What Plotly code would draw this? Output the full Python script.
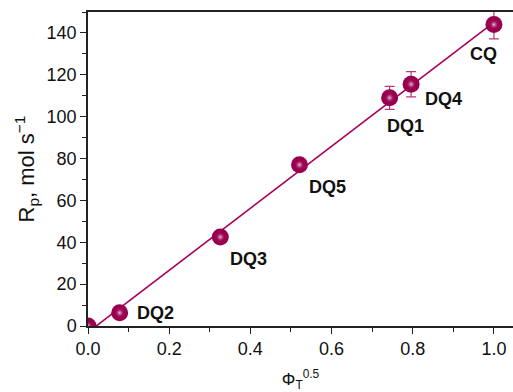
import plotly.graph_objects as go

names = ["", "DQ2", "DQ3", "DQ5", "DQ1", "DQ4", "CQ"]
phi = [0.0, 0.078, 0.326, 0.521, 0.743, 0.796, 1.0]
rp = [0.0, 6.3, 42.5, 77.0, 109.0, 115.5, 144.0]
err = [0.0, 0.0, 0.0, 1.8, 5.5, 6.0, 6.8]

fit_x = [0.0, 1.0]
fit_y = [-3.0, 145.0]

label_dx = [0, 0.088, 0.07, 0.07, 0.04, 0.08, -0.025]
label_dy = [0, 0.0, -10.5, -10.5, -13.4, -7.0, -14.3]

col = "#98004F"

fig = go.Figure()
fig.add_trace(go.Scatter(x=fit_x, y=fit_y, mode="lines",
                         line=dict(color="#A8005C", width=1.6),
                         hoverinfo="skip", showlegend=False))
fig.add_trace(go.Scatter(
    x=phi, y=rp, mode="markers",
    marker=dict(size=17, color=col, line=dict(width=0)),
    error_y=dict(type="data", array=err, visible=True, color="#B83A78",
                 thickness=1.2, width=5),
    cliponaxis=True, showlegend=False))
fig.add_trace(go.Scatter(
    x=phi, y=rp, mode="markers",
    marker=dict(size=10, color="rgba(152,0,79,0)",
                gradient=dict(type="radial", color="rgba(255,235,245,0.85)"),
                line=dict(width=0)),
    hoverinfo="skip", cliponaxis=True, showlegend=False))

for n, x, y, dx, dy in zip(names, phi, rp, label_dx, label_dy):
    if n:
        fig.add_annotation(x=x + dx, y=y + dy, text="<b>" + n + "</b>",
                           showarrow=False,
                           font=dict(family="Liberation Sans, Arial", size=18,
                                     color="#111111"),
                           xanchor="center", yanchor="middle")

fig.update_layout(
    width=513, height=392,
    margin=dict(l=88, r=0, t=12, b=66),
    plot_bgcolor="white", paper_bgcolor="white",
    font=dict(family="Liberation Sans, Arial", size=18, color="#111111"),
)
fig.update_xaxes(range=[0, 1.047], tickvals=[0, 0.2, 0.4, 0.6, 0.8, 1.0],
                 ticktext=["0.0", "0.2", "0.4", "0.6", "0.8", "1.0"],
                 ticks="outside", ticklen=6, tickwidth=1.2, tickcolor="#222",
                 minor=dict(dtick=0.1, tick0=0, ticks="outside", ticklen=4,
                            tickcolor="#222", tickwidth=1.2),
                 showline=True, linecolor="#222", linewidth=1.5, mirror=True,
                 showgrid=False, zeroline=False,
                 title=dict(text="Φ<sub>T</sub><sup>0.5</sup>", standoff=18,
                            font=dict(size=17)))
fig.update_yaxes(range=[0, 150], dtick=20, tick0=0,
                 ticks="outside", ticklen=6, tickwidth=1.2, tickcolor="#222",
                 minor=dict(dtick=10, tick0=0, ticks="outside", ticklen=4,
                            tickcolor="#222", tickwidth=1.2),
                 showline=True, linecolor="#222", linewidth=1.5,
                 showgrid=False, zeroline=False,
                 title=dict(text="R<sub>p</sub>, mol s<sup>−1</sup>", standoff=6))

fig.write_html("out.html")
